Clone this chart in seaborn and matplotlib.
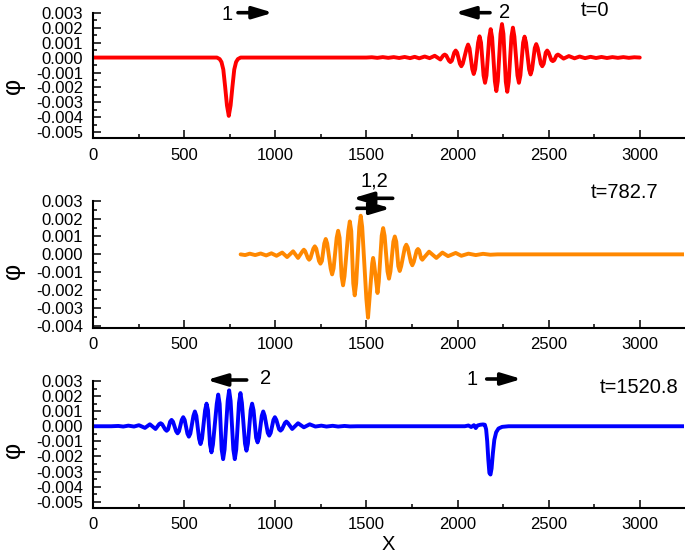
import matplotlib
matplotlib.use("Agg")
import matplotlib.pyplot as plt
import seaborn as sns
import pandas as pd

# ---------------- data ----------------
# t = 0 (red): soliton 1 near x=750, wave packet 2 near x=2240
red_x = [0, 680, 695, 705, 715, 725, 735, 745, 755, 765, 775, 785, 795, 810,
         1500, 1530, 1560, 1590, 1620, 1650, 1680, 1710, 1740, 1765, 1790, 1820,
         1847, 1875, 1906,
         1922, 1930, 1938, 1953, 1961, 1969, 1982, 1990, 1998, 2013, 2021, 2029,
         2050, 2058, 2066, 2081, 2089, 2097, 2113, 2121, 2129, 2143, 2151, 2159,
         2174, 2182, 2190, 2205, 2213, 2221, 2236, 2244, 2252, 2265, 2273, 2281,
         2296, 2304, 2312, 2329, 2337, 2345, 2360, 2368, 2376, 2393, 2401, 2409,
         2424, 2432, 2440, 2457, 2465, 2473, 2484, 2492, 2500, 2515, 2523, 2531,
         2543, 2551, 2559,
         2582, 2611, 2642, 2670,
         2700, 2730, 2760, 2790, 2820, 2850, 2880, 2910, 2940, 2970, 3000]
red_y = [0, 0, -0.0001, -0.0003, -0.0008, -0.00195, -0.0032, -0.0039, -0.0032,
         -0.00195, -0.0008, -0.0003, -0.0001, 0,
         0, 0.00002, -0.00002, 0.00003, -0.00002, 0.00003, -0.00003, 0.00004,
         -0.00004, 0.00005, -0.00005, 0.00007,
         -0.00004, 0.00012, -0.00013,
         0.00014, 0.0002, 0.00014, -0.00021, -0.0003, -0.00021,
         0.00033, 0.00047, 0.00033, -0.00041, -0.00058, -0.00041,
         0.00061, 0.00087, 0.00061, -0.00077, -0.0011, -0.00077,
         0.001, 0.00142, 0.001, -0.0012, -0.00169, -0.0012,
         0.00134, 0.0019, 0.00134, -0.00158, -0.00224, -0.00158,
         0.00158, 0.00224, 0.00158, -0.00162, -0.00229, -0.00162,
         0.00141, 0.002, 0.00141, -0.0012, -0.00169, -0.0012,
         0.001, 0.0014, 0.001, -0.0008, -0.00113, -0.0008,
         0.00064, 0.0009, 0.00064, -0.00041, -0.00058, -0.00041,
         0.00033, 0.00047, 0.00033, -0.00017, -0.00024, -0.00017,
         0.00014, 0.0002, 0.00014,
         -0.00007, 0.0001, -0.00005, 0.00007,
         -0.00004, 0.00005, -0.00003, 0.00004, -0.00003, 0.00003, -0.00002,
         0.00003, -0.00002, 0.00002, 0]

# t = 782.7 (orange): both structures overlapping near x=1500
orange_x = [810, 835, 860, 890, 920, 950, 979, 1007, 1038, 1065, 1098, 1125,
            1150, 1157, 1164, 1179, 1186, 1193, 1209, 1217, 1225, 1240, 1248, 1256,
            1269, 1277, 1285, 1304, 1312, 1320, 1337, 1345, 1353, 1364, 1372, 1380,
            1401, 1409, 1417, 1428, 1436, 1444, 1461, 1469, 1477, 1500, 1509, 1517,
            1532, 1537, 1542, 1554, 1561, 1568, 1584, 1592, 1600, 1616, 1624, 1632,
            1648, 1656, 1664, 1675, 1683, 1691, 1711, 1719, 1727, 1744, 1752, 1760,
            1776, 1783, 1790, 1800, 1807, 1814,
            1844, 1884, 1917, 1948, 1990, 2021, 2060, 2100, 2140, 2180, 2220, 3250]
orange_y = [0, -0.00004, 0.00004, -0.00004, 0.00005, -0.00006, 0.00006, -0.00008,
            0.0001, -0.00015, 0.00017, -0.0002,
            0.00018, 0.00026, 0.00018, -0.00021, -0.0003, -0.00021,
            0.00032, 0.00045, 0.00032, -0.00037, -0.00052, -0.00037,
            0.00061, 0.00086, 0.00061, -0.00079, -0.00112, -0.00079,
            0.00093, 0.00132, 0.00093, -0.00122, -0.00173, -0.00122,
            0.0013, 0.00184, 0.0013, -0.00162, -0.00229, -0.00162,
            0.00153, 0.00216, 0.00153, -0.0025, -0.00354, -0.0025,
            -0.0005, -0.0002, -0.0005, -0.00153, -0.00216, -0.00153,
            0.00104, 0.00147, 0.00104, -0.00096, -0.00136, -0.00096,
            0.00071, 0.001, 0.00071, -0.00066, -0.00093, -0.00066,
            0.00038, 0.00054, 0.00038, -0.00043, -0.00061, -0.00043,
            0.00021, 0.0003, 0.00021, -0.00021, -0.0003, -0.00021,
            0.00015, -0.0002, 0.0001, -0.0001, 0.00008, -0.00008, 0.00004,
            -0.00004, 0.00003, -0.00002, 0, 0]

# t = 1520.8 (blue): packet 2 near x=750, soliton 1 near x=2180
blue_x = [0, 100, 139, 166, 194, 225, 252, 285, 312, 343,
          363, 371, 379, 396, 404, 412, 423, 431, 439, 456, 464, 472,
          487, 495, 503, 518, 526, 534, 551, 559, 567, 582, 590, 598,
          615, 623, 631, 642, 650, 658, 679, 687, 695, 706, 714, 722,
          739, 747, 755, 770, 778, 786, 801, 809, 817, 834, 842, 850,
          865, 873, 881, 895, 903, 911, 926, 934, 942, 959, 967, 975,
          990, 998, 1006, 1021, 1029, 1037, 1053, 1061, 1069,
          1093, 1125, 1157, 1189, 1220, 1253, 1281,
          1315, 1345, 1380, 1410, 1450, 2040, 2060, 2075, 2090, 2100,
          2110, 2125, 2140, 2150, 2157, 2163, 2169, 2175, 2181, 2187,
          2194, 2202, 2212, 2225, 2245, 2280, 3250]
blue_y = [0, 0, 0.00002, -0.00002, 0.00004, -0.00002, 0.00007, -0.00011, 0.00013, -0.00018,
          0.00014, 0.0002, 0.00014, -0.00021, -0.0003, -0.00021, 0.0003, 0.00042, 0.0003,
          -0.00033, -0.00047, -0.00033,
          0.00042, 0.0006, 0.00042, -0.00049, -0.00069, -0.00049, 0.00069, 0.00098, 0.00069,
          -0.00083, -0.00118, -0.00083,
          0.00106, 0.0015, 0.00106, -0.00122, -0.00173, -0.00122, 0.00148, 0.0021, 0.00148,
          -0.00154, -0.00218, -0.00154,
          0.00168, 0.00238, 0.00168, -0.00154, -0.00218, -0.00154, 0.00155, 0.0022, 0.00155,
          -0.00115, -0.00162, -0.00115,
          0.00106, 0.0015, 0.00106, -0.00076, -0.00107, -0.00076, 0.00069, 0.00098, 0.00069,
          -0.00044, -0.00062, -0.00044,
          0.00042, 0.0006, 0.00042, -0.0002, -0.00029, -0.0002, 0.00022, 0.00031, 0.00022,
          -0.00018, 0.0002, -0.00007, 0.00013, -0.00002, 0.00004, -0.00002,
          0.00003, -0.00002, 0.00002, -0.00001, 0, 0, 0.00005, -0.00005, 0.00007, -0.00012,
          0.00005, 0.0001, 0.00012, 0.0001, -0.0002, -0.001, -0.0022, -0.0031, -0.0032, -0.0028,
          -0.0018, -0.0009, -0.0004, -0.00015, -0.00004, 0, 0]

x_ticks = [0, 500, 1000, 1500, 2000, 2500, 3000]
x_tick_labels = ["0", "500", "1000", "1500", "2000", "2500", "3000"]

y_ticks_a = [0.003, 0.002, 0.001, 0.0, -0.001, -0.002, -0.003, -0.004, -0.005]
y_labels_a = ["0.003", "0.002", "0.001", "0.000", "-0.001", "-0.002", "-0.003", "-0.004", "-0.005"]
y_ticks_b = [0.003, 0.002, 0.001, 0.0, -0.001, -0.002, -0.003, -0.004]
y_labels_b = ["0.003", "0.002", "0.001", "0.000", "-0.001", "-0.002", "-0.003", "-0.004"]

time_labels = ["t=0", "t=782.7", "t=1520.8"]

# ---------------- styling ----------------
sns.set_theme(style="ticks")
plt.rcParams["font.family"] = ["Liberation Sans", "DejaVu Sans"]
plt.rcParams["text.color"] = "black"
plt.rcParams["axes.edgecolor"] = "black"

W, H = 685, 554
fig = plt.figure(figsize=(W / 100, H / 100), dpi=100)


def rect(left, top, right, bottom):
    return [left / W, 1 - bottom / H, (right - left) / W, (bottom - top) / H]


panels = [
    dict(x=red_x, y=red_y, color="#ff0000", r=(93, 12.7, 683.5, 138.3),
         ylim=(-0.0054, 0.003), yt=y_ticks_a, yl=y_labels_a, ylab_y=85.7),
    dict(x=orange_x, y=orange_y, color="#ff8800", r=(93, 200.7, 683.5, 327.7),
         ylim=(-0.0041, 0.003), yt=y_ticks_b, yl=y_labels_b, ylab_y=271),
    dict(x=blue_x, y=blue_y, color="#0000ff", r=(93, 381, 683.5, 507.7),
         ylim=(-0.0054, 0.003), yt=y_ticks_a, yl=y_labels_a, ylab_y=450),
]

axes = []
for p in panels:
    ax = fig.add_axes(rect(*p["r"]))
    df = pd.DataFrame({"x": p["x"], "phi": p["y"]})
    sns.lineplot(data=df, x="x", y="phi", ax=ax, color=p["color"], lw=2.8,
                 sort=False, estimator=None)
    for ln in ax.get_lines():
        ln.set_solid_joinstyle("round")
        ln.set_solid_capstyle("round")
    ax.set_xlim(0, 3240)
    ax.set_ylim(*p["ylim"])
    ax.set_xticks(x_ticks)
    ax.set_xticklabels(x_tick_labels)
    ax.set_xticks([250, 750, 1250, 1750, 2250, 2750], minor=True)
    ax.set_yticks(p["yt"])
    ax.set_yticklabels(p["yl"])
    minors = [v - 0.0005 for v in p["yt"][:-1]]
    ax.set_yticks(minors, minor=True)
    ax.tick_params(which="major", direction="in", length=5.5, width=1.1,
                   labelsize=12, pad=7, color="black", labelcolor="black")
    ax.tick_params(which="minor", direction="in", length=3, width=1.1, color="black")
    for s in ("top", "right"):
        ax.spines[s].set_visible(False)
    for s in ("left", "bottom"):
        ax.spines[s].set_linewidth(1.5)
        ax.spines[s].set_color("black")
    ax.set_xlabel("")
    ax.set_ylabel("φ", fontsize=18, color="black")
    l, t, rr, b = p["r"]
    ax.yaxis.set_label_coords((13 - l) / (rr - l), (b - p["ylab_y"]) / (b - t))
    ax.yaxis.label.set_va("center")
    ax.set_facecolor("white")
    axes.append(ax)

# x label on bottom axis
axb = axes[2]
axb.set_xlabel("X", fontsize=14.5, color="black")
l, t, rr, b = panels[2]["r"]
axb.xaxis.set_label_coords((388.3 - l) / (rr - l), (b - 549.5) / (b - t))
axb.xaxis.label.set_va("baseline")


def ftext(x, y, s, size=14.5):
    fig.text(x / W, 1 - y / H, s, ha="center", va="baseline", fontsize=size, color="black")


def farrow(x0, y0, x1, y1):
    fig.add_artist(matplotlib.patches.FancyArrowPatch(
        (x0 / W, 1 - y0 / H), (x1 / W, 1 - y1 / H), transform=fig.transFigure,
        arrowstyle="-|>,head_length=1.2,head_width=0.36", mutation_scale=10,
        lw=2.6, color="black", shrinkA=0, shrinkB=0))


# top panel annotations
ftext(227.5, 19.5, "1")
farrow(238, 12.7, 273, 12.7)
ftext(504.5, 18.5, "2")
farrow(490, 12.7, 455, 12.7)
ftext(595, 16.5, time_labels[0])
# middle panel
ftext(374, 186.5, "1,2")
farrow(392.7, 198.3, 352.7, 198.3)
farrow(357, 208.3, 390.7, 208.3)
ftext(624.7, 198, time_labels[1])
# bottom panel
ftext(266, 384.5, "2")
farrow(246.7, 380, 206.7, 380)
ftext(472.5, 385, "1")
farrow(486.7, 379, 521.7, 379)
ftext(639, 393.3, time_labels[2])

fig.savefig("out.png", dpi=100, facecolor="white")
